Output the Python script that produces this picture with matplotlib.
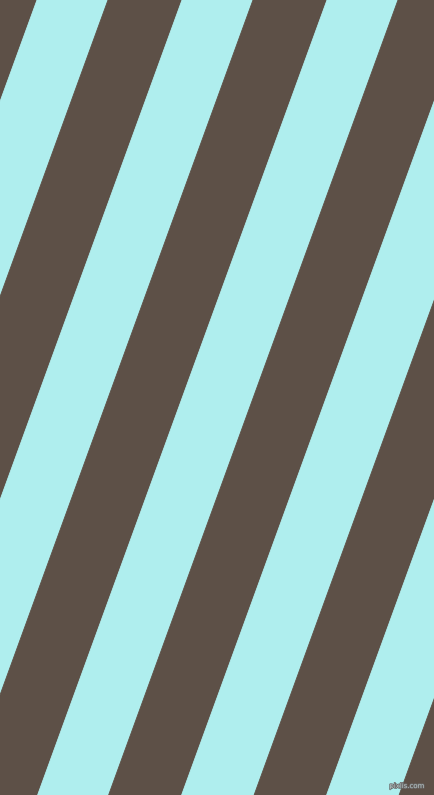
import matplotlib.pyplot as plt
import matplotlib.patheffects as pe

# 斜条纹背景
W, H = 434, 795
# 每条边界在顶部(y=0)的x位置
top_edges = [-108, -35.5, 37, 108, 182, 253, 327, 398, 471, 543.5, 616, 688.5, 761]
stripe_colors = ['#AFEEEE', '#5D5047']   # 浅青色 / 棕色
shift = 0.364   # 每向下1像素，边界左移多少 (约70度)

fig = plt.figure(figsize=(W / 100, H / 100), dpi=100)
ax = fig.add_axes([0, 0, 1, 1])
ax.set_xlim(0, W)
ax.set_ylim(H, 0)
ax.axis('off')

for i in range(len(top_edges) - 1):
    a = top_edges[i]
    b = top_edges[i + 1]
    xs = [a, b, b - shift * H, a - shift * H]
    ys = [0, 0, H, H]
    ax.fill(xs, ys, color=stripe_colors[i % 2], linewidth=0.6, edgecolor=stripe_colors[i % 2])

ax.text(407, 786, 'pixlis.com', fontsize=5, color='#b8c4c4', ha='center', va='center',
        path_effects=[pe.withStroke(linewidth=1, foreground='#6a6a6a')])

plt.savefig('out.png', dpi=100)
